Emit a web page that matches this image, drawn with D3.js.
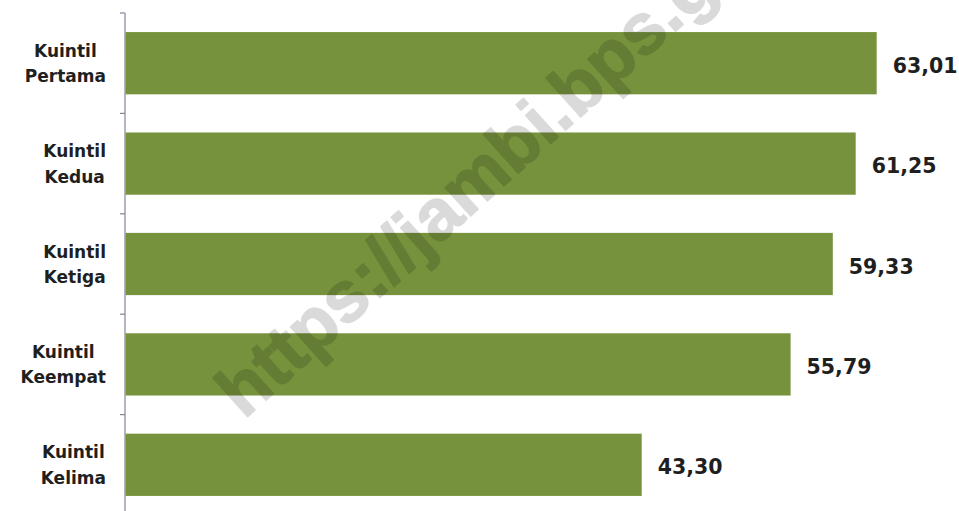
<!DOCTYPE html>
<html>
<head>
<meta charset="utf-8">
<script src="https://cdn.jsdelivr.net/npm/d3@7"></script>
<style>
  html, body { margin: 0; padding: 0; background: #ffffff; }
  svg { display: block; }
</style>
</head>
<body>
<svg id="chart" width="959" height="511"></svg>
<script>
// Quintile groups (two-line labels) and their values
const categoryLine1 = ["Kuintil", "Kuintil", "Kuintil", "Kuintil", "Kuintil"];
const categoryLine2 = ["Pertama", "Kedua", "Ketiga", "Keempat", "Kelima"];
const values = [63.01, 61.25, 59.33, 55.79, 43.30];
const valueLabels = ["63,01", "61,25", "59,33", "55,79", "43,30"];
const watermarkText = "https://jambi.bps.go.id";

const svg = d3.select("#chart");

const cats = categoryLine2.map((d, i) => i);

const x = d3.scaleLinear().domain([0, 70]).range([125.5, 960]);
const y = d3.scaleBand().domain(cats).range([13, 515]).paddingInner(0.38).paddingOuter(0.19);

const barColor = "#76923c";
const textColor = "#1f1f1f";

// Bars
svg.append("g").selectAll("rect")
  .data(values)
  .join("rect")
  .attr("x", x(0))
  .attr("y", (d, i) => y(i))
  .attr("width", d => x(d) - x(0))
  .attr("height", y.bandwidth())
  .attr("fill", barColor);

// Category axis line with outward ticks at band boundaries
const axisG = svg.append("g");
axisG.append("line")
  .attr("x1", 125).attr("x2", 125)
  .attr("y1", 13).attr("y2", 515)
  .attr("stroke", "#85859a").attr("stroke-width", 1.2);
const bounds = d3.range(cats.length + 1).map(i => 13 + i * (502 / cats.length));
axisG.selectAll("line.tick")
  .data(bounds)
  .join("line")
  .attr("class", "tick")
  .attr("x1", 120).attr("x2", 125)
  .attr("y1", d => d).attr("y2", d => d)
  .attr("stroke", "#85859a").attr("stroke-width", 1.2);

// Category labels: two centred lines, block right-aligned near the axis
const labelFont = "'DejaVu Sans', sans-serif";
const labels = svg.append("g")
  .attr("font-family", labelFont)
  .attr("font-weight", "bold")
  .attr("font-size", "17px")
  .attr("fill", textColor);

cats.forEach(i => {
  const cy = y(i) + y.bandwidth() / 2;
  const t = labels.append("text").attr("text-anchor", "middle");
  const a = t.append("tspan").attr("y", cy - 6.5).text(categoryLine1[i]);
  const b = t.append("tspan").attr("y", cy + 19).text(categoryLine2[i]);
  const wmax = Math.max(a.node().getComputedTextLength(), b.node().getComputedTextLength());
  const cx = 106 - wmax / 2;
  a.attr("x", cx);
  b.attr("x", cx);
});

// Value labels at the end of each bar
svg.append("g")
  .attr("font-family", labelFont)
  .attr("font-weight", "bold")
  .attr("font-size", "20.5px")
  .attr("fill", textColor)
  .selectAll("text")
  .data(values)
  .join("text")
  .attr("x", d => x(d) + 16)
  .attr("y", (d, i) => y(i) + y.bandwidth() / 2 + 9.5)
  .text((d, i) => valueLabels[i]);

// Diagonal site watermark (translucent as a whole so fill and outline don't stack)
svg.append("g")
  .attr("opacity", 0.14)
  .append("text")
  .attr("transform", "translate(244,420) rotate(-42)")
  .attr("font-family", "'Liberation Sans', Arial, sans-serif")
  .attr("font-weight", "bold")
  .attr("font-size", "72px")
  .attr("fill", "#000")
  .attr("stroke", "#000")
  .attr("stroke-width", 1.5)
  .attr("stroke-linejoin", "round")
  .text(watermarkText);
</script>
</body>
</html>
